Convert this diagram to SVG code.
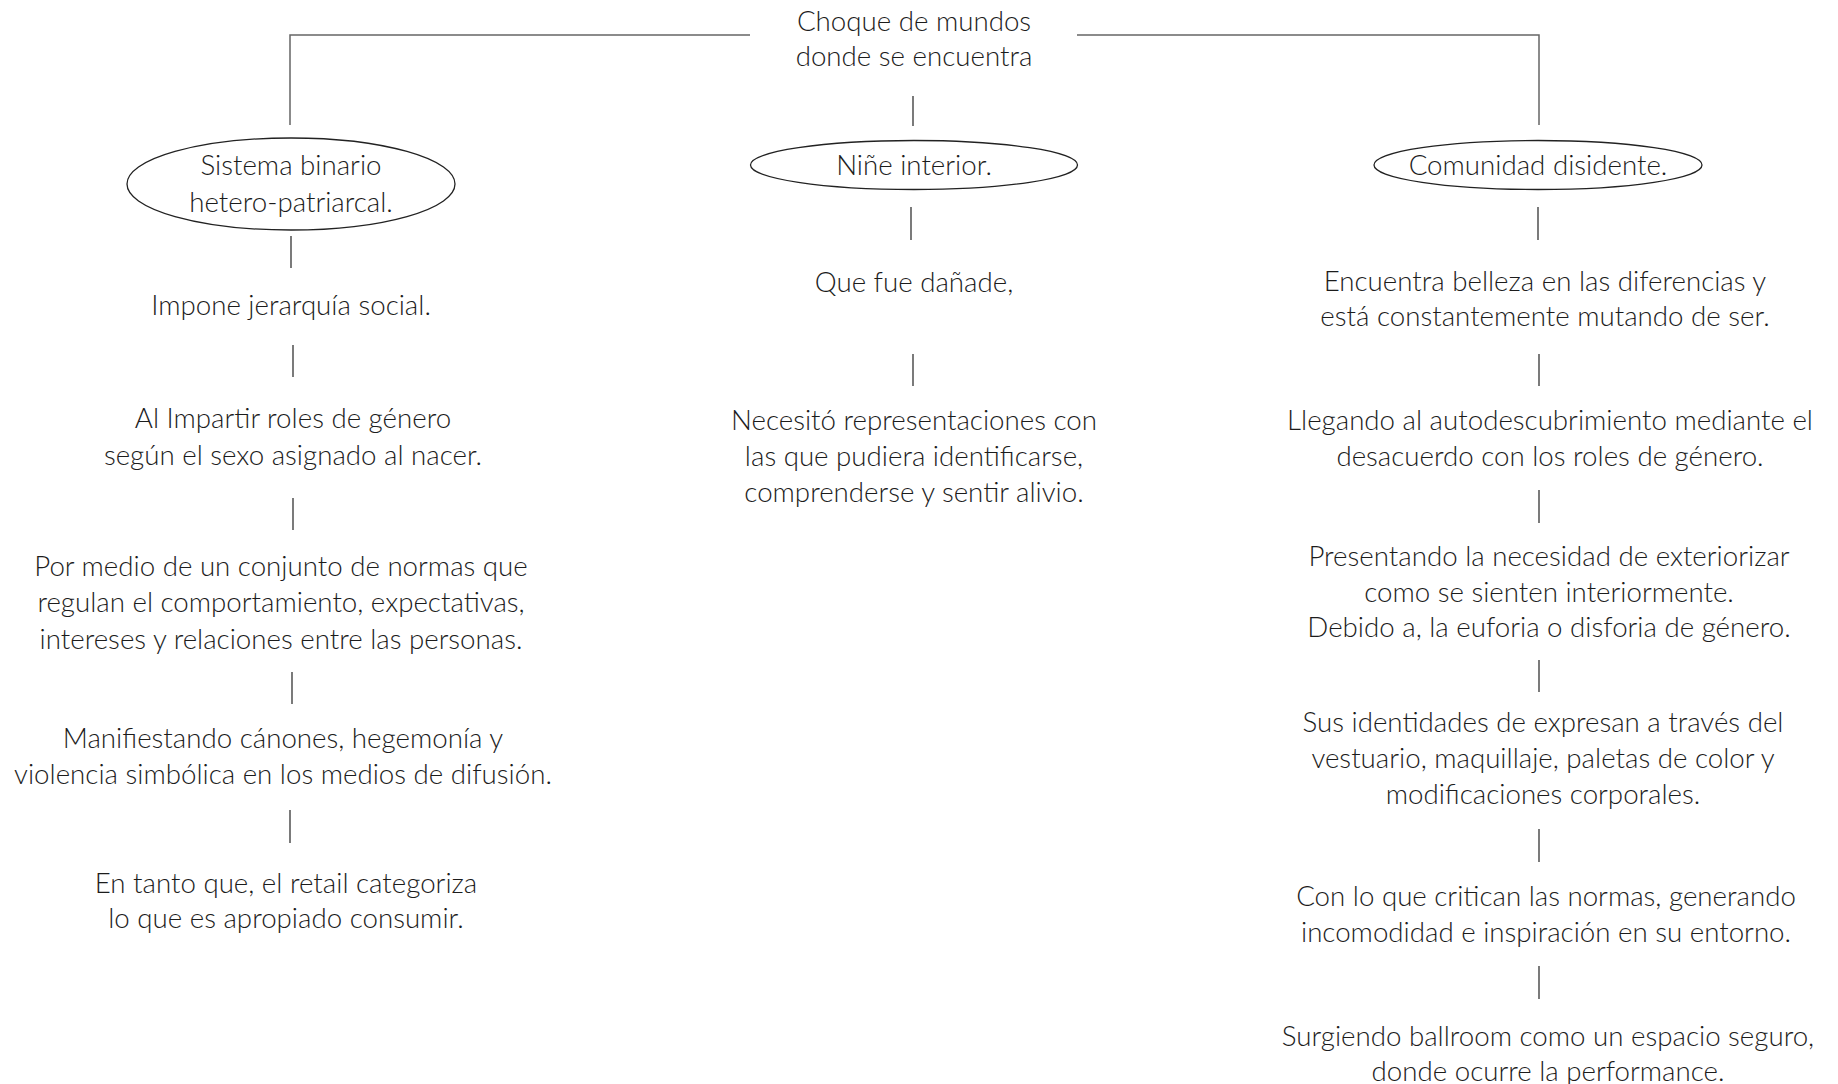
<svg xmlns="http://www.w3.org/2000/svg" width="1838" height="1084" viewBox="0 0 1838 1084">
<style>
text{font-family:Lato,"Source Sans Pro","Open Sans",sans-serif;font-weight:300;font-size:27.7px;fill:#1c1c1c;text-anchor:middle}
.ln{stroke:#333;stroke-width:1.3;fill:none}
.hl{stroke:#666;stroke-width:1.5;fill:none}
.el{fill:#fff;stroke:#222;stroke-width:1.3}
</style>
<rect width="1838" height="1084" fill="#fff"/>
<g id="connectors">
<polyline class="hl" points="750,35 290,35 290,125"/>
<polyline class="hl" points="1077,35 1539,35 1539,125"/>
<line class="ln" x1="913" y1="96" x2="913" y2="126"/>
<line class="ln" x1="291" y1="236" x2="291" y2="268"/>
<line class="ln" x1="911" y1="207" x2="911" y2="240"/>
<line class="ln" x1="1538" y1="207" x2="1538" y2="240"/>
<line class="ln" x1="293" y1="345" x2="293" y2="377"/>
<line class="ln" x1="293" y1="498" x2="293" y2="530"/>
<line class="ln" x1="292" y1="672" x2="292" y2="704"/>
<line class="ln" x1="290" y1="810" x2="290" y2="843"/>
<line class="ln" x1="913" y1="354" x2="913" y2="386"/>
<line class="ln" x1="1539" y1="354" x2="1539" y2="386"/>
<line class="ln" x1="1539" y1="490" x2="1539" y2="523"/>
<line class="ln" x1="1539" y1="660" x2="1539" y2="692"/>
<line class="ln" x1="1539" y1="829" x2="1539" y2="862"/>
<line class="ln" x1="1539" y1="966" x2="1539" y2="999"/>
</g>
<g id="title"><text x="914" y="31">Choque de mundos</text><text x="914" y="66">donde se encuentra</text></g>
<g id="sistema"><ellipse class="el" cx="291" cy="184" rx="164" ry="46"/><text x="291" y="175">Sistema binario</text><text x="291" y="212">hetero-patriarcal.</text></g>
<g id="nine"><ellipse class="el" cx="914" cy="165" rx="163.5" ry="24.5"/><text x="914" y="175">Niñe interior.</text></g>
<g id="comunidad"><ellipse class="el" cx="1538" cy="165" rx="164" ry="24.5"/><text x="1538" y="175">Comunidad disidente.</text></g>
<g id="impone"><text x="291" y="315">Impone jerarquía social.</text></g>
<g id="impartir"><text x="293" y="428">Al Impartir roles de género</text><text x="293" y="465">según el sexo asignado al nacer.</text></g>
<g id="normas"><text x="281" y="576">Por medio de un conjunto de normas que</text><text x="281" y="612">regulan el comportamiento, expectativas,</text><text x="281" y="649">intereses y relaciones entre las personas.</text></g>
<g id="manifiestando"><text x="283" y="748">Manifiestando cánones, hegemonía y</text><text x="283" y="784">violencia simbólica en los medios de difusión.</text></g>
<g id="retail"><text x="286" y="893">En tanto que, el retail categoriza</text><text x="286" y="928">lo que es apropiado consumir.</text></g>
<g id="danade"><text x="914" y="292">Que fue dañade,</text></g>
<g id="necesito"><text x="914" y="430">Necesitó representaciones con</text><text x="914" y="466">las que pudiera identificarse,</text><text x="914" y="502">comprenderse y sentir alivio.</text></g>
<g id="belleza"><text x="1545" y="291">Encuentra belleza en las diferencias y</text><text x="1545" y="326">está constantemente mutando de ser.</text></g>
<g id="llegando"><text x="1550" y="430">Llegando al autodescubrimiento mediante el</text><text x="1550" y="466">desacuerdo con los roles de género.</text></g>
<g id="presentando"><text x="1549" y="566">Presentando la necesidad de exteriorizar</text><text x="1549" y="602">como se sienten interiormente.</text><text x="1549" y="637">Debido a, la euforia o disforia de género.</text></g>
<g id="identidades"><text x="1543" y="732">Sus identidades de expresan a través del</text><text x="1543" y="768">vestuario, maquillaje,  paletas de color y</text><text x="1543" y="804">modificaciones corporales.</text></g>
<g id="critican"><text x="1546" y="906">Con lo que critican las normas, generando</text><text x="1546" y="942">incomodidad e inspiración en su entorno.</text></g>
<g id="ballroom"><text x="1548" y="1046">Surgiendo ballroom como un espacio seguro,</text><text x="1548" y="1081">donde ocurre la performance.</text></g>
</svg>
